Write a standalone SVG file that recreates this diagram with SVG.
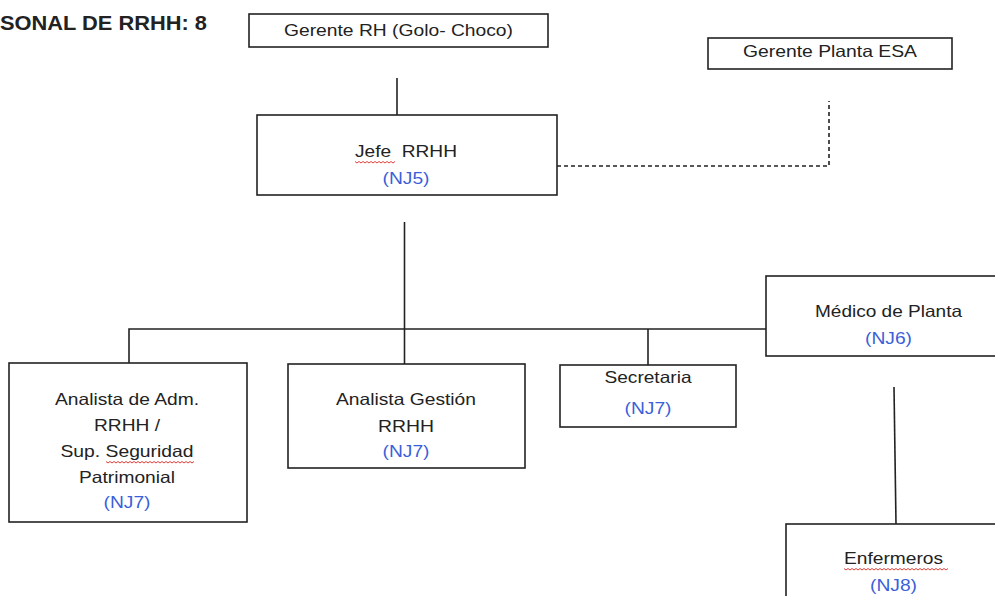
<svg xmlns="http://www.w3.org/2000/svg" width="995" height="596" viewBox="0 0 995 596">
<style>
.box{fill:#fff;stroke:#222;stroke-width:1.6}
.t{font-family:"Liberation Sans",Arial,sans-serif;font-size:16.5px;fill:#222;text-anchor:middle}
.nj{fill:#3a5fd9}
.ln{fill:none;stroke:#222;stroke-width:1.6}
.dash{fill:none;stroke:#222;stroke-width:1.6;stroke-dasharray:4 3}
.sq{fill:none;stroke:#e0403a;stroke-width:1}
</style>
<rect width="995" height="596" fill="#fff"/>
<text x="0" y="30" textLength="207" lengthAdjust="spacingAndGlyphs" style="font-family:'Liberation Sans',Arial,sans-serif;font-size:21px;font-weight:bold;fill:#222">SONAL DE RRHH: 8</text>

<g id="connectors">
<line class="ln" x1="397" y1="78" x2="397" y2="115"/>
<line class="ln" x1="404.5" y1="222" x2="404.5" y2="364"/>
<polyline class="ln" points="129,363 129,329 766,329"/>
<line class="ln" x1="648" y1="329" x2="648" y2="365"/>
<polyline class="dash" points="557,166 829,166 829,101"/>
<line class="ln" x1="894" y1="387" x2="896" y2="524"/>
</g>

<g id="gerente-rh">
<rect class="box" x="249" y="14" width="299" height="33"/>
<text class="t" x="398.5" y="36" textLength="229" lengthAdjust="spacingAndGlyphs">Gerente RH (Golo- Choco)</text>
</g>

<g id="gerente-planta">
<rect class="box" x="708" y="38" width="244" height="31"/>
<text class="t" x="830" y="57" textLength="174" lengthAdjust="spacingAndGlyphs">Gerente Planta ESA</text>
</g>

<g id="jefe-rrhh">
<rect class="box" x="257" y="115" width="300" height="80"/>
<text class="t" x="406" y="157" textLength="102" lengthAdjust="spacingAndGlyphs" xml:space="preserve">Jefe  RRHH</text>
<text class="t nj" x="406" y="184" textLength="47" lengthAdjust="spacingAndGlyphs">(NJ5)</text>
<path class="sq" d="M355,161.5 l2,1.5 2,-1.5 2,1.5 2,-1.5 2,1.5 2,-1.5 2,1.5 2,-1.5 2,1.5 2,-1.5 2,1.5 2,-1.5 2,1.5 2,-1.5 2,1.5 2,-1.5 2,1.5 2,-1.5 2,1.5 2,-1.5"/>
</g>

<g id="analista-adm">
<rect class="box" x="9" y="363" width="238" height="159"/>
<text class="t" x="127" y="405" textLength="144" lengthAdjust="spacingAndGlyphs">Analista de Adm.</text>
<text class="t" x="127" y="431" textLength="66" lengthAdjust="spacingAndGlyphs">RRHH /</text>
<text class="t" x="127" y="457" textLength="133" lengthAdjust="spacingAndGlyphs">Sup. Seguridad</text>
<text class="t" x="127" y="483" textLength="96" lengthAdjust="spacingAndGlyphs">Patrimonial</text>
<text class="t nj" x="127" y="508" textLength="47" lengthAdjust="spacingAndGlyphs">(NJ7)</text>
<path class="sq" d="M106,461.5 l2,1.5 2,-1.5 2,1.5 2,-1.5 2,1.5 2,-1.5 2,1.5 2,-1.5 2,1.5 2,-1.5 2,1.5 2,-1.5 2,1.5 2,-1.5 2,1.5 2,-1.5 2,1.5 2,-1.5 2,1.5 2,-1.5 2,1.5 2,-1.5 2,1.5 2,-1.5 2,1.5 2,-1.5 2,1.5 2,-1.5 2,1.5 2,-1.5 2,1.5 2,-1.5 2,1.5 2,-1.5 2,1.5 2,-1.5 2,1.5 2,-1.5 2,1.5 2,-1.5 2,1.5 2,-1.5 2,1.5 2,-1.5"/>
</g>

<g id="analista-gestion">
<rect class="box" x="288" y="364" width="237" height="104"/>
<text class="t" x="406" y="405" textLength="140" lengthAdjust="spacingAndGlyphs">Analista Gestión</text>
<text class="t" x="406" y="432" textLength="56" lengthAdjust="spacingAndGlyphs">RRHH</text>
<text class="t nj" x="406" y="457" textLength="47" lengthAdjust="spacingAndGlyphs">(NJ7)</text>
</g>

<g id="secretaria">
<rect class="box" x="560" y="365" width="176" height="62"/>
<text class="t" x="648" y="383" textLength="87" lengthAdjust="spacingAndGlyphs">Secretaria</text>
<text class="t nj" x="648" y="414" textLength="47" lengthAdjust="spacingAndGlyphs">(NJ7)</text>
</g>

<g id="medico">
<rect class="box" x="766" y="276" width="245" height="80"/>
<text class="t" x="888.5" y="317" textLength="147" lengthAdjust="spacingAndGlyphs">Médico de Planta</text>
<text class="t nj" x="888.5" y="344" textLength="47" lengthAdjust="spacingAndGlyphs">(NJ6)</text>
</g>

<g id="enfermeros">
<rect class="box" x="786" y="524" width="215" height="90"/>
<text class="t" x="893.5" y="564" textLength="99" lengthAdjust="spacingAndGlyphs">Enfermeros</text>
<text class="t nj" x="893.5" y="591" textLength="47" lengthAdjust="spacingAndGlyphs">(NJ8)</text>
<path class="sq" d="M844,568.5 l2,1.5 2,-1.5 2,1.5 2,-1.5 2,1.5 2,-1.5 2,1.5 2,-1.5 2,1.5 2,-1.5 2,1.5 2,-1.5 2,1.5 2,-1.5 2,1.5 2,-1.5 2,1.5 2,-1.5 2,1.5 2,-1.5 2,1.5 2,-1.5 2,1.5 2,-1.5 2,1.5 2,-1.5 2,1.5 2,-1.5 2,1.5 2,-1.5 2,1.5 2,-1.5 2,1.5 2,-1.5 2,1.5 2,-1.5 2,1.5 2,-1.5 2,1.5 2,-1.5 2,1.5 2,-1.5 2,1.5 2,-1.5 2,1.5 2,-1.5 2,1.5 2,-1.5 2,1.5 2,-1.5 2,1.5 2,-1.5"/>
</g>
</svg>
